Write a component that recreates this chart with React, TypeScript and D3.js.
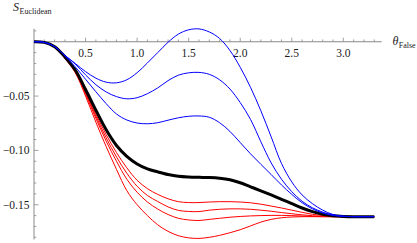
import * as d3 from "d3";
import { useEffect, useRef } from "react";

// theta grid shared by every curve
const theta = [
  0, 0.1, 0.2, 0.3, 0.4, 0.5, 0.6, 0.7, 0.8, 0.9, 1.0, 1.1, 1.2, 1.3, 1.4, 1.5, 1.6,
  1.7, 1.8, 1.9, 2.0, 2.1, 2.2, 2.3, 2.4, 2.5, 2.6, 2.7, 2.8, 2.9, 3.0, 3.1, 3.2, 3.3,
];

// blue family (upper)
const blue1 = [
  0, -0.0006, -0.0045, -0.0125, -0.02, -0.0275, -0.0335, -0.0372, -0.0378, -0.035, -0.0285,
  -0.0195, -0.01, -0.0005, 0.007, 0.011, 0.0118, 0.009, 0.003, -0.008, -0.0235, -0.042,
  -0.0635, -0.0875, -0.112, -0.129, -0.141, -0.149, -0.155, -0.159, -0.1605, -0.161, -0.161, -0.161,
];
const blue2 = [
  0, -0.0006, -0.0045, -0.0128, -0.0205, -0.0305, -0.0395, -0.0462, -0.0505, -0.0525, -0.0515,
  -0.0478, -0.0425, -0.0358, -0.0308, -0.0286, -0.0282, -0.03, -0.035, -0.0435, -0.056, -0.0715,
  -0.092, -0.1115, -0.1265, -0.138, -0.1468, -0.1528, -0.1568, -0.1595, -0.1606, -0.161, -0.161, -0.161,
];
const blue3 = [
  0, -0.0006, -0.0045, -0.0132, -0.0232, -0.0345, -0.046, -0.057, -0.0665, -0.072, -0.0748,
  -0.0755, -0.0745, -0.0722, -0.07, -0.0686, -0.0683, -0.0695, -0.0745, -0.0825, -0.0928, -0.1032,
  -0.1128, -0.1222, -0.1318, -0.1405, -0.1482, -0.1538, -0.1576, -0.1599, -0.1607, -0.161, -0.161, -0.161,
];

// critical curve (thick black)
const critical = [
  0, -0.0006, -0.0045, -0.014, -0.026, -0.044, -0.063, -0.081, -0.0955, -0.1055, -0.1125,
  -0.117, -0.1198, -0.1222, -0.1238, -0.1245, -0.1248, -0.125, -0.1256, -0.127, -0.1298, -0.1335,
  -0.1372, -0.141, -0.145, -0.149, -0.153, -0.1563, -0.1588, -0.1602, -0.1608, -0.161, -0.161, -0.161,
];

// red family (lower)
const red1 = [
  0, -0.0006, -0.0046, -0.0145, -0.0268, -0.046, -0.0665, -0.0855, -0.102, -0.116, -0.1275,
  -0.1352, -0.1405, -0.1445, -0.1472, -0.148, -0.148, -0.1475, -0.1472, -0.1472, -0.1475, -0.1482,
  -0.1495, -0.1512, -0.153, -0.155, -0.157, -0.1588, -0.16, -0.1607, -0.161, -0.161, -0.161, -0.161,
];
const red2 = [
  0, -0.0006, -0.0047, -0.0148, -0.0272, -0.047, -0.0685, -0.0885, -0.106, -0.121, -0.133,
  -0.1415, -0.147, -0.152, -0.1552, -0.1562, -0.1563, -0.155, -0.1542, -0.1538, -0.1538, -0.1542,
  -0.155, -0.156, -0.1572, -0.1583, -0.1593, -0.1601, -0.1607, -0.161, -0.161, -0.161, -0.161, -0.161,
];
const red3 = [
  0, -0.0006, -0.0048, -0.015, -0.0276, -0.048, -0.0705, -0.0915, -0.11, -0.1265, -0.1385,
  -0.1475, -0.154, -0.159, -0.1625, -0.164, -0.1645, -0.1635, -0.1625, -0.1615, -0.1608, -0.1603,
  -0.16, -0.1598, -0.1598, -0.16, -0.1604, -0.1608, -0.161, -0.161, -0.161, -0.161, -0.161, -0.161,
];
const red4 = [
  0, -0.0006, -0.0049, -0.0155, -0.0285, -0.05, -0.074, -0.0965, -0.1175, -0.137, -0.15,
  -0.16, -0.1685, -0.1745, -0.1785, -0.1805, -0.181, -0.18, -0.1782, -0.1758, -0.173, -0.1695,
  -0.166, -0.1635, -0.162, -0.1613, -0.161, -0.161, -0.161, -0.161, -0.161, -0.161, -0.161, -0.161,
];

const xMajorTicks = [0.5, 1.0, 1.5, 2.0, 2.5, 3.0];
const xTickLabels = ["0.5", "1.0", "1.5", "2.0", "2.5", "3.0"];
const yMajorTicks = [-0.05, -0.1, -0.15];
const yTickLabels = ["\u22120.05", "\u22120.10", "\u22120.15"];

const W = 417;
const H = 243;
const serif = "Liberation Serif, Times New Roman, serif";

export default function App() {
  const svgRef = useRef<SVGSVGElement>(null);

  useEffect(() => {
    if (!svgRef.current) return;
    const svg = d3.select(svgRef.current);
    svg.selectAll("*").remove();

    const x = d3.scaleLinear().domain([0, 3.372]).range([34, 381.7]);
    const y = d3.scaleLinear().domain([0.012, -0.182]).range([28.7, 239.5]);
    const axisColor = "#8a8a8a";

    // axes
    const ax = svg.append("g");
    ax.append("line")
      .attr("x1", x(0)).attr("x2", x(3.372))
      .attr("y1", y(0)).attr("y2", y(0))
      .attr("stroke", axisColor).attr("stroke-width", 1);
    ax.append("line")
      .attr("x1", x(0)).attr("x2", x(0))
      .attr("y1", y(0.012)).attr("y2", y(-0.182))
      .attr("stroke", axisColor).attr("stroke-width", 1);

    // x ticks (pointing up)
    const xMinor = d3.range(1, 34).map(i => i / 10);
    ax.selectAll(".xt")
      .data(xMinor)
      .enter()
      .append("line")
      .attr("x1", d => x(d)).attr("x2", d => x(d))
      .attr("y1", y(0))
      .attr("y2", d => y(0) - (xMajorTicks.some(m => Math.abs(m - d) < 1e-6) ? 4 : 2.3))
      .attr("stroke", axisColor).attr("stroke-width", 0.8);

    // y ticks (pointing right)
    const yMinor = d3.range(1, -19, -1).map(i => i / 100);
    ax.selectAll(".yt")
      .data(yMinor.filter(d => d !== 0))
      .enter()
      .append("line")
      .attr("x1", x(0))
      .attr("x2", d => x(0) + (yMajorTicks.some(m => Math.abs(m - d) < 1e-6) ? 4.5 : 2.3))
      .attr("y1", d => y(d)).attr("y2", d => y(d))
      .attr("stroke", axisColor).attr("stroke-width", 0.8);

    // tick labels
    svg.selectAll(".xl")
      .data(xMajorTicks)
      .enter()
      .append("text")
      .attr("x", d => x(d))
      .attr("y", y(0) + 15.5)
      .attr("text-anchor", "middle")
      .style("font-family", serif)
      .style("font-size", "11.5px")
      .attr("fill", "#1a1a1a")
      .text((d, i) => xTickLabels[i]);

    svg.selectAll(".yl")
      .data(yMajorTicks)
      .enter()
      .append("text")
      .attr("x", x(0) - 4.5)
      .attr("y", d => y(d) + 4)
      .attr("text-anchor", "end")
      .style("font-family", serif)
      .style("font-size", "11.5px")
      .attr("fill", "#1a1a1a")
      .text((d, i) => yTickLabels[i]);

    // axis titles
    const yt = svg.append("text")
      .attr("x", 13).attr("y", 10.8)
      .style("font-family", serif).attr("fill", "#1a1a1a");
    yt.append("tspan").style("font-size", "12px").style("font-style", "italic").text("S");
    yt.append("tspan").style("font-size", "8px").attr("dy", 3.2).attr("dx", 0.5).text("Euclidean");

    const xt = svg.append("text")
      .attr("x", 392.5).attr("y", 45)
      .style("font-family", serif).attr("fill", "#1a1a1a");
    xt.append("tspan").style("font-size", "12px").style("font-style", "italic").text("\u03B8");
    xt.append("tspan").style("font-size", "8px").attr("dy", 2.6).attr("dx", 0.3).text("False");

    // curves
    const line = d3.line<number>()
      .x((d, i) => x(theta[i]))
      .y(d => y(d))
      .curve(d3.curveCatmullRom.alpha(0.5));

    const plot = svg.append("g").attr("fill", "none");
    [red1, red2, red3, red4].forEach(s => {
      plot.append("path").attr("d", line(s)).attr("stroke", "#ff0000").attr("stroke-width", 1);
    });
    plot.append("path").attr("d", line(critical)).attr("stroke", "#000").attr("stroke-width", 3);
    [blue1, blue2, blue3].forEach(s => {
      plot.append("path").attr("d", line(s)).attr("stroke", "#0000ff").attr("stroke-width", 1);
    });
  }, []);

  return (
    <svg
      ref={svgRef}
      width={W}
      height={H}
      style={{ position: "absolute", left: 0, top: 0, background: "#fff" }}
    />
  );
}
